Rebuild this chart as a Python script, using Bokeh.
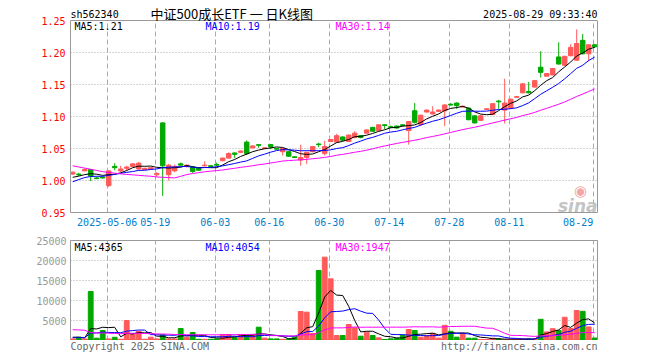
import numpy as np
from bokeh.plotting import figure
from bokeh.models import (ColumnDataSource, Range1d, FixedTicker, Label, PrintfTickFormatter,
                          LinearAxis, Span, Grid)
from bokeh.layouts import column
from bokeh.embed import file_html
from bokeh.resources import INLINE

# ---------------- data ----------------
symbol = "sh562340"
title_text = "中证500成长ETF 一 日K线图"
stamp = "2025-08-29 09:33:40"
footer_left = "Copyright 2025 SINA.COM"
footer_right = "http://finance.sina.com.cn"

tick_idx = [6, 14, 24, 33, 43, 53, 63, 73, 87]
tick_labels = ["2025-05-06", "05-19", "06-03", "06-16", "06-30", "07-14", "07-28", "08-11", "08-29"]

price_ticks = [0.95, 1.00, 1.05, 1.10, 1.15, 1.20, 1.25]
volume_ticks = [5000, 10000, 15000, 20000, 25000]

opens = [1.010, 1.010, 1.015, 1.017, 1.004, 1.005, 0.992, 1.022, 1.015, 1.019,
         1.022, 1.018, 1.017, 1.018, 1.009, 1.090, 1.009, 1.015, 1.026, 1.022,
         1.021, 1.019, 1.023, 1.023, 1.025, 1.031, 1.035, 1.043, 1.044, 1.060,
         1.051, 1.056, 1.050, 1.056, 1.050, 1.045, 1.045, 1.037, 1.032, 1.036,
         1.045, 1.057, 1.042, 1.061, 1.060, 1.068, 1.061, 1.067, 1.070, 1.074,
         1.083, 1.078, 1.087, 1.084, 1.085, 1.087, 1.078, 1.109, 1.088, 1.107,
         1.104, 1.108, 1.109, 1.119, 1.121, 1.115, 1.113, 1.101, 1.094, 1.111,
         1.103, 1.124, 1.110, 1.113, 1.130, 1.137, 1.139, 1.146, 1.177, 1.163,
         1.165, 1.193, 1.180, 1.195, 1.188, 1.219, 1.198, 1.212]
highs = [1.014, 1.012, 1.019, 1.018, 1.006, 1.006, 1.016, 1.027, 1.023, 1.023,
         1.027, 1.029, 1.020, 1.021, 1.013, 1.091, 1.026, 1.025, 1.028, 1.025,
         1.022, 1.020, 1.030, 1.024, 1.028, 1.036, 1.044, 1.044, 1.047, 1.0625,
         1.055, 1.057, 1.052, 1.057, 1.051, 1.051, 1.046, 1.038, 1.056, 1.045,
         1.054, 1.059, 1.062, 1.065, 1.073, 1.069, 1.072, 1.077, 1.071, 1.080,
         1.084, 1.088, 1.088, 1.086, 1.086, 1.088, 1.093, 1.121, 1.103, 1.111,
         1.116, 1.111, 1.119, 1.121, 1.122, 1.117, 1.114, 1.102, 1.102, 1.113,
         1.121, 1.126, 1.159, 1.128, 1.132, 1.152, 1.154, 1.157, 1.202, 1.168,
         1.176, 1.216, 1.195, 1.213, 1.236, 1.229, 1.213, 1.213]
lows = [1.009, 1.007, 1.015, 0.999, 1.002, 1.003, 0.990, 1.016, 1.013, 1.015,
        1.021, 1.016, 1.016, 1.017, 1.006, 0.976, 1.000, 1.013, 1.023, 1.020,
        1.012, 1.015, 1.022, 1.021, 1.022, 1.030, 1.034, 1.035, 1.043, 1.040,
        1.050, 1.051, 1.049, 1.049, 1.048, 1.039, 1.037, 1.035, 1.023, 1.026,
        1.044, 1.052, 1.039, 1.060, 1.059, 1.062, 1.060, 1.066, 1.066, 1.073,
        1.076, 1.077, 1.080, 1.082, 1.081, 1.085, 1.056, 1.089, 1.085, 1.106,
        1.103, 1.107, 1.085, 1.117, 1.112, 1.114, 1.094, 1.089, 1.093, 1.110,
        1.102, 1.112, 1.089, 1.112, 1.129, 1.136, 1.136, 1.145, 1.161, 1.162,
        1.164, 1.181, 1.179, 1.194, 1.187, 1.197, 1.186, 1.207]
closes = [1.013, 1.009, 1.017, 1.007, 1.003, 1.004, 1.015, 1.020, 1.018, 1.021,
          1.026, 1.027, 1.019, 1.020, 1.011, 1.023, 1.024, 1.022, 1.024, 1.024,
          1.014, 1.016, 1.024, 1.022, 1.024, 1.035, 1.042, 1.041, 1.046, 1.042,
          1.054, 1.055, 1.051, 1.053, 1.049, 1.050, 1.038, 1.036, 1.036, 1.044,
          1.053, 1.056, 1.053, 1.064, 1.070, 1.063, 1.071, 1.074, 1.067, 1.079,
          1.077, 1.087, 1.086, 1.083, 1.082, 1.086, 1.092, 1.091, 1.102, 1.110,
          1.107, 1.110, 1.118, 1.118, 1.117, 1.116, 1.095, 1.090, 1.101, 1.112,
          1.120, 1.123, 1.121, 1.127, 1.131, 1.151, 1.137, 1.156, 1.169, 1.167,
          1.175, 1.182, 1.194, 1.208, 1.214, 1.198, 1.212, 1.209]
volumes = [400, 830, 400, 12250, 580, 2500, 400, 800, 300, 5000,
           1670, 2250, 300, 830, 400, 1420, 400, 400, 3000, 830,
           2000, 300, 300, 300, 400, 1500, 1500, 830, 1500, 1250,
           1500, 3330, 600, 400, 400, 300, 400, 830, 7250, 7080,
           1750, 17500, 20830, 15420, 1250, 1250, 4000, 3170, 1080, 2080,
           1250, 670, 250, 420, 580, 1250, 2750, 2500, 830, 1250,
           1800, 610, 3800, 2300, 830, 1780, 580, 580, 250, 250,
           580, 420, 250, 250, 250, 420, 420, 420, 5300, 2150,
           2950, 2500, 5815, 3000, 7500, 7300, 3400, 625]

# closes / volumes of the 29 sessions before the window (needed for the moving averages)
prior_closes = [1.065, 1.070, 1.062, 1.058, 1.060, 1.055, 1.050, 1.052, 1.048, 1.045,
                1.050, 1.042, 1.040, 1.045, 1.038, 1.035, 1.040, 0.950, 0.940, 0.965,
                0.975, 0.985, 0.990, 1.000, 1.005, 1.000, 1.005, 1.000, 1.007]
prior_volumes = [2500, 2600, 30000, 3500, 2800, 2000, 2500, 1800, 2200, 2000,
                 1600, 2400, 2100, 1900, 2300, 1800, 2600, 3000, 2400, 1900,
                 600, 500, 700, 450, 600, 900, 1100, 800, 950]

ma_periods = [5, 10, 30]

# ---------------- helpers ----------------
def moving_avg(hist, vals, n):
    allv = np.array(list(hist) + list(vals), dtype=float)
    h = len(hist)
    return [float(allv[h + i - n + 1: h + i + 1].mean()) for i in range(len(vals))]

UP = "#ff5a5a"
DOWN = "#00a800"
MA_COLORS = ["#000000", "#0000ff", "#ff00ff"]
GRID = "#aaaaaa"
BORDER = "#999999"
MONO = "DejaVu Sans Mono"
W = 656

N = len(closes)
idx = list(range(N))
colors = [UP if c >= o else DOWN for o, c in zip(opens, closes)]

src = ColumnDataSource(dict(
    x=idx, o=opens, h=highs, l=lows, c=closes, v=volumes,
    top=[max(o, c) for o, c in zip(opens, closes)],
    bot=[min(o, c) for o, c in zip(opens, closes)],
    color=colors,
))

price_ma = {n: moving_avg(prior_closes, closes, n) for n in ma_periods}
vol_ma = {n: moving_avg(prior_volumes, volumes, n) for n in ma_periods}

x_range = Range1d(-0.367, 87.467)
grid_ticks = [t - 0.25 for t in tick_idx]
p_lo, p_hi = price_ticks[0], price_ticks[-1]

def xp(px):
    return (px - 72.2) / 6.0

def y1(py):
    return p_hi + (20 - py) / 640.0

def y2(py):
    return (340 - py) * 250.0

def style_axes(p):
    for ax in p.axis:
        ax.major_tick_line_color = None
        ax.minor_tick_line_color = None
        ax.major_tick_out = 0
        ax.major_tick_in = 0
        ax.minor_tick_out = 0
        ax.minor_tick_in = 0
        ax.major_label_text_font = MONO
        ax.major_label_text_font_size = "10px"

has_cross = "cross_bounds" in Grid.properties()

# ---------------- price panel (frame reaches up to the header row) ----------------
p1 = figure(width=W, height=230, x_range=x_range, y_range=Range1d(p_lo, y1(0)),
            output_backend="svg", toolbar_location=None,
            min_border_left=70, min_border_right=W - 597, min_border_top=0, min_border_bottom=18)
p1.outline_line_color = None
p1.background_fill_color = "white"
p1.border_fill_color = "white"
p1.add_layout(LinearAxis(ticker=FixedTicker(ticks=[]), bounds=(p_lo, p_hi),
                         axis_line_color=BORDER, major_label_text_font_size="0px"), "right")
style_axes(p1)
p1.yaxis[0].ticker = FixedTicker(ticks=price_ticks)
p1.yaxis[0].bounds = (p_lo, p_hi)
p1.yaxis[0].axis_line_color = BORDER
p1.yaxis[0].formatter = PrintfTickFormatter(format="%.2f")
p1.yaxis[0].major_label_text_color = "#ff0000"
p1.yaxis[0].major_label_standoff = 5
p1.xaxis.ticker = FixedTicker(ticks=grid_ticks)
p1.xaxis.axis_line_color = BORDER
overrides = {t: lab for t, lab in zip(grid_ticks, tick_labels)}
overrides[grid_ticks[-1]] = tick_labels[-1] + "\u00a0" * 5
p1.xaxis.major_label_overrides = overrides
p1.xaxis.major_label_text_color = "#0080cc"
p1.xaxis.major_label_standoff = 4
p1.add_layout(Span(location=p_hi, dimension="width", line_color=BORDER, line_width=1))

p1.ygrid.ticker = FixedTicker(ticks=price_ticks[1:-1])
p1.ygrid.grid_line_color = GRID
p1.ygrid.grid_line_dash = "1 2"
if has_cross:
    p1.xgrid.ticker = FixedTicker(ticks=grid_ticks)
    p1.xgrid.cross_bounds = (p_lo, p_hi)
    p1.xgrid.grid_line_color = GRID
    p1.xgrid.grid_line_dash = "5 3"
else:
    p1.xgrid.visible = False
    p1.segment(x0=grid_ticks, y0=[p_lo] * len(grid_ticks), x1=grid_ticks, y1=[p_hi] * len(grid_ticks),
               line_color=GRID, line_dash="5 3", line_width=1)

p1.segment(x0="x", y0="l", x1="x", y1="h", color="color", line_width=1, source=src)
p1.vbar(x="x", top="top", bottom="bot", width=0.75, fill_color="color", line_color="color", source=src)
for n, col in zip(ma_periods, MA_COLORS):
    p1.line(idx, price_ma[n], line_color=col, line_width=1)

p1.add_layout(Label(x=x_range.start, y=y1(13.5), text=symbol, text_font=MONO, text_font_size="10px",
                    text_color="#000000", text_baseline="middle", text_align="left"))
p1.add_layout(Label(x=xp(150), y=y1(13.0), text=title_text, text_font="Noto Sans CJK SC",
                    text_font_size="13px", text_color="#000000", text_baseline="middle", text_align="left"))
p1.add_layout(Label(x=x_range.end, y=y1(13.5), text=stamp, text_font=MONO, text_font_size="10px",
                    text_color="#000000", text_baseline="middle", text_align="right"))

legend_x = [xp(74), xp(205), xp(335)]
for n, col, lx in zip(ma_periods, MA_COLORS, legend_x):
    p1.add_layout(Label(x=lx, y=y1(26), text="MA%d:%.2f" % (n, price_ma[n][-1]), text_font=MONO,
                        text_font_size="10px", text_color=col, text_baseline="middle", text_align="left"))

# sina watermark
p1.add_layout(Label(x=xp(597), y=y1(205), text="sina", text_font="DejaVu Sans", text_font_style="bold italic",
                    text_font_size="17px", text_color="#c4c4c4", text_align="right", text_baseline="alphabetic"))
p1.add_layout(Label(x=xp(580), y=y1(190), text="\u25c9", text_font="DejaVu Sans",
                    text_font_size="15px", text_color="#f2a8a8", text_align="center", text_baseline="middle"))

# ---------------- volume panel ----------------
p2 = figure(width=W, height=110, x_range=x_range, y_range=Range1d(0, volume_ticks[-1]),
            output_backend="svg", toolbar_location=None,
            min_border_left=70, min_border_right=W - 597, min_border_top=10, min_border_bottom=0)
p2.outline_line_color = BORDER
p2.outline_line_width = 1
p2.background_fill_color = "white"
p2.border_fill_color = "white"
style_axes(p2)
p2.yaxis.ticker = FixedTicker(ticks=volume_ticks)
p2.yaxis.axis_line_color = None
p2.yaxis.major_label_text_color = "#999999"
p2.yaxis.major_label_standoff = 4
p2.xaxis.ticker = FixedTicker(ticks=grid_ticks)
p2.xaxis.visible = False
p2.xgrid.ticker = FixedTicker(ticks=grid_ticks)
p2.xgrid.grid_line_color = GRID
p2.xgrid.grid_line_dash = "5 3"
p2.ygrid.ticker = FixedTicker(ticks=volume_ticks[:-1])
p2.ygrid.grid_line_color = GRID
p2.ygrid.grid_line_dash = "1 2"

p2.vbar(x="x", top="v", bottom=0, width=0.8, fill_color="color", line_color="color", source=src)
for n, col in zip(ma_periods, MA_COLORS):
    p2.line(idx, vol_ma[n], line_color=col, line_width=1)

for n, col, lx in zip(ma_periods, MA_COLORS, legend_x):
    p2.add_layout(Label(x=lx, y=y2(246.7), text="MA%d:%d" % (n, int(round(vol_ma[n][-1]))), text_font=MONO,
                        text_font_size="10px", text_color=col, text_baseline="middle", text_align="left"))

# ---------------- footer (frame aligned with the panels above) ----------------
p3 = figure(width=W, height=16, x_range=x_range, y_range=Range1d(16, 0),
            output_backend="svg", toolbar_location=None, x_axis_type=None, y_axis_type=None,
            min_border_left=70, min_border_right=W - 597, min_border_top=0, min_border_bottom=0)
p3.outline_line_color = None
p3.grid.visible = False
p3.add_layout(Label(x=x_range.start, y=6, text=footer_left, text_font=MONO, text_font_size="10px",
                    text_color="#666666", text_baseline="middle", text_align="left"))
p3.add_layout(Label(x=x_range.end, y=6, text=footer_right, text_font=MONO, text_font_size="10px",
                    text_color="#666666", text_baseline="middle", text_align="right"))

layout = column(p1, p2, p3, spacing=0)
open("out.html", "w").write(file_html(layout, INLINE))
